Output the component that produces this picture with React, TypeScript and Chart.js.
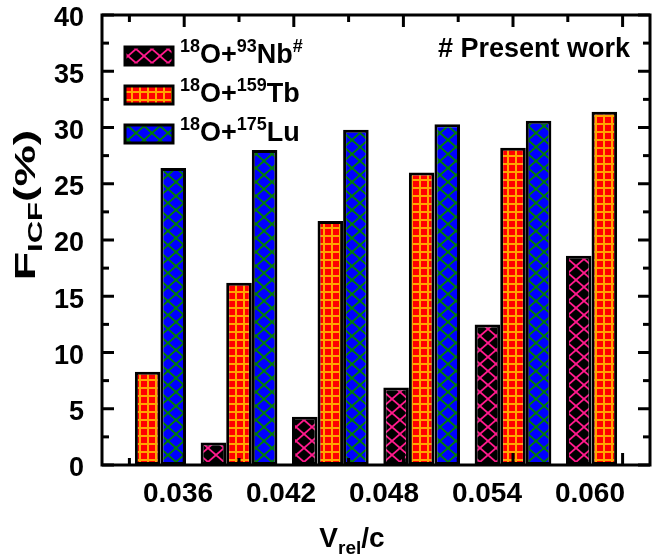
import React, { useEffect, useRef } from 'react';
import { Chart, registerables } from 'chart.js';

Chart.register(...registerables);

// ---------------- data ----------------
const groupKeys = ['G1', 'G2', 'G3', 'G4', 'G5', 'G6'];
const nbValues: (number | null)[] = [null, 2.0, 4.3, 6.9, 12.5, 18.6];
const tbValues: (number | null)[] = [8.3, 16.2, 21.7, 26.0, 28.2, 31.4];
const luValues: (number | null)[] = [26.4, 28.0, 29.8, 30.3, 30.6, null];

const xLabelTicks = [0.036, 0.042, 0.048, 0.054, 0.06];
const xMajorTicks = [0.036, 0.042, 0.048, 0.054, 0.06];
const xMinorTicks = [0.033, 0.039, 0.045, 0.051, 0.057];
const yMajorTicks = [0, 5, 10, 15, 20, 25, 30, 35, 40];
const yMinorTicks = [2.5, 7.5, 12.5, 17.5, 22.5, 27.5, 32.5, 37.5];

const FONT = '"Liberation Sans", Arial, Helvetica, sans-serif';

type Part = { t: string; size: number; dy: number };

function drawRich(ctx: CanvasRenderingContext2D, parts: Part[], x: number, y: number) {
  let cx = x;
  for (const p of parts) {
    ctx.font = `bold ${p.size}px ${FONT}`;
    ctx.fillText(p.t, cx, y + p.dy);
    cx += ctx.measureText(p.t).width;
  }
  return cx;
}

function richWidth(ctx: CanvasRenderingContext2D, parts: Part[]) {
  let w = 0;
  for (const p of parts) {
    ctx.font = `bold ${p.size}px ${FONT}`;
    w += ctx.measureText(p.t).width;
  }
  return w;
}

function makeCross(bg: string, fg: string, w: number, h: number) {
  const c = document.createElement('canvas');
  c.width = w;
  c.height = h;
  const g = c.getContext('2d')!;
  g.fillStyle = bg;
  g.fillRect(0, 0, w, h);
  g.strokeStyle = fg;
  g.lineWidth = 1.8;
  for (let i = -1; i <= 1; i++) {
    for (let j = -1; j <= 1; j++) {
      const ox = i * w;
      const oy = j * h;
      g.beginPath();
      g.moveTo(ox, oy);
      g.lineTo(ox + w, oy + h);
      g.moveTo(ox + w, oy);
      g.lineTo(ox, oy + h);
      g.stroke();
    }
  }
  return g.createPattern(c, 'repeat')!;
}

function makeGrid(bg: string, fg: string, s: number) {
  const c = document.createElement('canvas');
  c.width = s;
  c.height = s;
  const g = c.getContext('2d')!;
  g.fillStyle = bg;
  g.fillRect(0, 0, s, s);
  g.fillStyle = fg;
  g.fillRect(Math.floor(s / 2) - 1, 0, 2, s);
  g.fillRect(0, Math.floor(s / 2) - 1, s, 2);
  return g.createPattern(c, 'repeat')!;
}

const zeroPad = (s: any) => {
  s.paddingTop = 0;
  s.paddingBottom = 0;
  s.paddingLeft = 0;
  s.paddingRight = 0;
};

export default function App() {
  const ref = useRef<HTMLCanvasElement | null>(null);

  useEffect(() => {
    const canvas = ref.current!;
    const ctx0 = canvas.getContext('2d')!;
    const pNb = makeCross('#000000', '#FF1A8C', 16, 14);
    const pTb = makeGrid('#FF0000', '#FFA500', 8);
    const pLu = makeCross('#0000FF', '#008000', 16, 14);

    const legendItems = [
      {
        fill: pNb,
        parts: [
          { t: '18', size: 18, dy: -11 },
          { t: 'O+', size: 27, dy: 0 },
          { t: '93', size: 18, dy: -11 },
          { t: 'Nb', size: 27, dy: 0 },
          { t: '#', size: 18, dy: -11 },
        ],
      },
      {
        fill: pTb,
        parts: [
          { t: '18', size: 18, dy: -11 },
          { t: 'O+', size: 27, dy: 0 },
          { t: '159', size: 18, dy: -11 },
          { t: 'Tb', size: 27, dy: 0 },
        ],
      },
      {
        fill: pLu,
        parts: [
          { t: '18', size: 18, dy: -11 },
          { t: 'O+', size: 27, dy: 0 },
          { t: '175', size: 18, dy: -11 },
          { t: 'Lu', size: 27, dy: 0 },
        ],
      },
    ];

    const framePlugin = {
      id: 'frameTicks',
      afterDatasetsDraw(chart: any) {
        const ctx: CanvasRenderingContext2D = chart.ctx;
        const { left, right, top, bottom } = chart.chartArea;
        const xt = chart.scales.xt;
        const y = chart.scales.y;
        ctx.save();
        ctx.strokeStyle = '#000';
        ctx.lineWidth = 3;
        ctx.lineCap = 'butt';
        const seg = (x1: number, y1: number, x2: number, y2: number) => {
          ctx.beginPath();
          ctx.moveTo(x1, y1);
          ctx.lineTo(x2, y2);
          ctx.stroke();
        };
        for (const v of xMajorTicks) {
          const px = xt.getPixelForValue(v);
          seg(px, bottom, px, bottom - 12);
          seg(px, top, px, top + 12);
        }
        for (const v of xMinorTicks) {
          const px = xt.getPixelForValue(v);
          seg(px, bottom, px, bottom - 7);
          seg(px, top, px, top + 7);
        }
        for (const v of yMajorTicks) {
          const py = y.getPixelForValue(v);
          seg(left, py, left + 12, py);
          seg(right, py, right - 12, py);
        }
        for (const v of yMinorTicks) {
          const py = y.getPixelForValue(v);
          seg(left, py, left + 7, py);
          seg(right, py, right - 7, py);
        }
        ctx.strokeRect(left, top, right - left, bottom - top);
        ctx.restore();
      },
      afterDraw(chart: any) {
        const ctx: CanvasRenderingContext2D = chart.ctx;
        const { left, right, top, bottom } = chart.chartArea;
        ctx.save();
        ctx.fillStyle = '#000';
        ctx.textBaseline = 'alphabetic';
        ctx.textAlign = 'left';
        // legend
        legendItems.forEach((it, i) => {
          const sy = top + 32 + i * 39;
          ctx.fillStyle = it.fill as any;
          ctx.fillRect(left + 23, sy, 48, 18);
          ctx.strokeStyle = '#000';
          ctx.lineWidth = 3;
          ctx.strokeRect(left + 23, sy, 48, 18);
          ctx.fillStyle = '#000';
          drawRich(ctx, it.parts, left + 78, sy + 16);
        });
        // note
        ctx.font = `bold 27px ${FONT}`;
        ctx.textAlign = 'right';
        ctx.fillText('# Present work', right - 20, top + 42);
        ctx.textAlign = 'left';
        // x title
        const xParts: Part[] = [
          { t: 'V', size: 28, dy: 0 },
          { t: 'rel', size: 19, dy: 7 },
          { t: '/c', size: 28, dy: 0 },
        ];
        const xw = richWidth(ctx, xParts);
        drawRich(ctx, xParts, 352 - xw / 2, bottom + 82);
        // y title
        const yParts: Part[] = [
          { t: 'F', size: 30, dy: 0 },
          { t: 'ICF', size: 20, dy: 7 },
          { t: '(%)', size: 30, dy: 0 },
        ];
        const yw = richWidth(ctx, yParts);
        ctx.translate(35, 205);
        ctx.rotate(-Math.PI / 2);
        ctx.scale(1.55, 1);
        drawRich(ctx, yParts, -yw / 2, 0);
        ctx.restore();
      },
    };

    const common = {
      borderColor: '#000000',
      borderWidth: 3,
      borderSkipped: false,
      categoryPercentage: 0.84,
      barPercentage: 1.0,
      xAxisID: 'x',
      yAxisID: 'y',
    };

    const chart = new Chart(ctx0, {
      type: 'bar',
      data: {
        labels: groupKeys,
        datasets: [
          { ...common, label: '18O+93Nb#', data: nbValues, backgroundColor: pNb as any },
          { ...common, label: '18O+159Tb', data: tbValues, backgroundColor: pTb as any },
          { ...common, label: '18O+175Lu', data: luValues, backgroundColor: pLu as any },
        ],
      } as any,
      options: {
        responsive: false,
        animation: false,
        devicePixelRatio: 1,
        layout: { padding: { top: 15, right: 10, left: 0, bottom: 0 } },
        plugins: { legend: { display: false }, tooltip: { enabled: false } },
        scales: {
          x: { type: 'category', display: false, offset: true },
          xt: {
            type: 'linear',
            display: false,
            position: 'top',
            offset: false,
            grid: { offset: false },
            min: 0.0315,
            max: 0.0615,
          },
          xl: {
            type: 'linear',
            position: 'bottom',
            offset: false,
            min: 0.03157,
            max: 0.0635,
            afterBuildTicks: (s: any) => {
              s.ticks = xLabelTicks.map((v) => ({ value: v }));
            },
            afterFit: (s: any) => {
              s.height = 91;
              zeroPad(s);
            },
            grid: { display: false, drawTicks: false, offset: false },
            border: { display: false },
            ticks: {
              autoSkip: false,
              maxRotation: 0,
              color: '#000',
              padding: 12,
              font: { family: FONT, size: 28, weight: 'bold' },
              callback: (v: any) => Number(v).toFixed(3),
            },
          },
          y: {
            type: 'linear',
            position: 'left',
            min: 0,
            max: 40,
            afterBuildTicks: (s: any) => {
              s.ticks = yMajorTicks.map((v) => ({ value: v }));
            },
            afterFit: (s: any) => {
              s.width = 102;
              zeroPad(s);
            },
            grid: { display: false, drawTicks: false },
            border: { display: false },
            ticks: {
              color: '#000',
              padding: 18,
              labelOffset: 4,
              font: { family: FONT, size: 27, weight: 'bold' },
            },
          },
        },
      } as any,
      plugins: [framePlugin],
    });
    return () => chart.destroy();
  }, []);

  return (
    <canvas
      ref={ref}
      width={660}
      height={556}
      style={{ position: 'fixed', left: 0, top: 0, width: 660, height: 556 }}
    />
  );
}
